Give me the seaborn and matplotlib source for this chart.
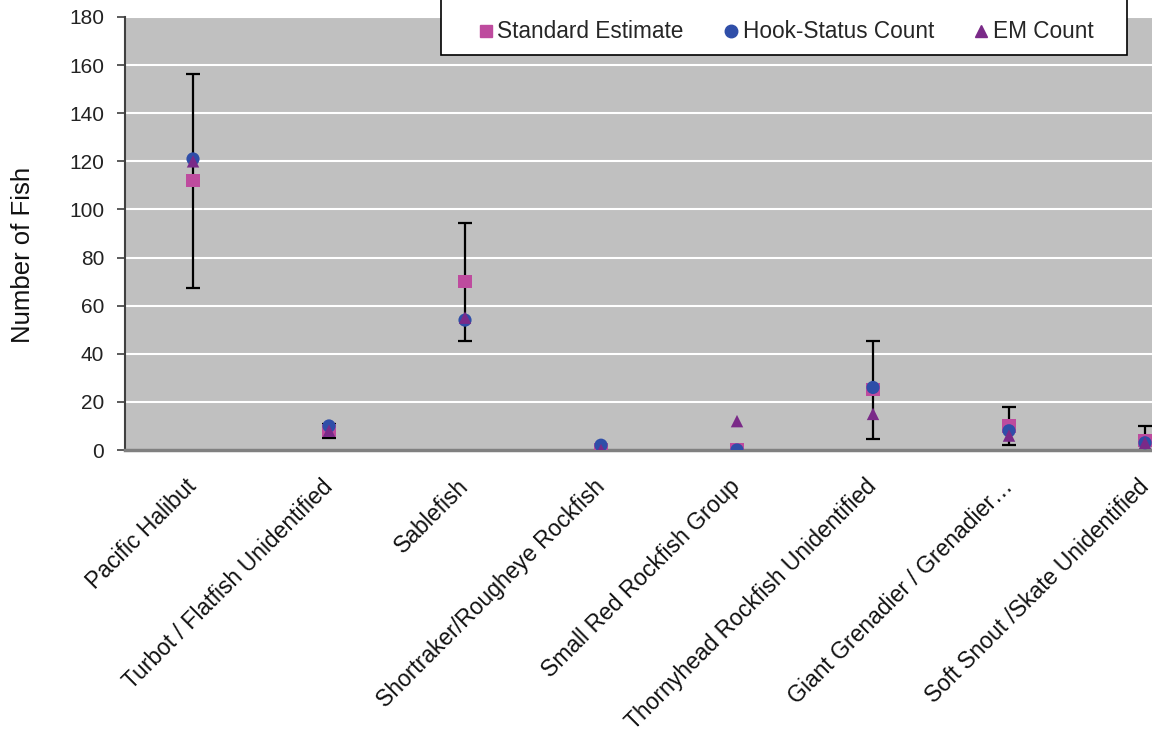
import numpy as np
import pandas as pd
import matplotlib
matplotlib.use("Agg")
import matplotlib.pyplot as plt
import matplotlib.transforms as mtransforms
from matplotlib.patches import Rectangle
from matplotlib.lines import Line2D
import seaborn as sns

categories = [
    "Pacific Halibut",
    "Turbot / Flatfish Unidentified",
    "Sablefish",
    "Shortraker/Rougheye Rockfish",
    "Small Red Rockfish Group",
    "Thornyhead Rockfish Unidentified",
    "Giant Grenadier / Grenadier\u2026",
    "Soft Snout /Skate Unidentified",
]
standard_estimate = [112, 8, 70, 0, 0, 25, 10, 4]
standard_error = [44.5, 3, 24.5, 0, 0, 20.5, 8, 6]
hook_status_count = [121, 10, 54, 2, 0, 26, 8, 3]
em_count = [120, 8, 55, 0, 12, 15, 6, 3]

series_names = ["Standard Estimate", "Hook-Status Count", "EM Count"]
colors = {"Standard Estimate": "#BE4B9E", "Hook-Status Count": "#2F4EA8", "EM Count": "#7A2A88"}
markers = {"Standard Estimate": "s", "Hook-Status Count": "o", "EM Count": "^"}

df = pd.DataFrame({
    "Species": categories * 3,
    "Series": [series_names[0]] * 8 + [series_names[1]] * 8 + [series_names[2]] * 8,
    "Value": standard_estimate + hook_status_count + em_count,
})

sns.set_theme(style="white")
plt.rcParams["font.family"] = ["Liberation Sans", "DejaVu Sans"]

fig = plt.figure(figsize=(11.52, 7.40), dpi=100)
ax = fig.add_axes([125 / 1152, 290 / 740, 1088 / 1152, 433 / 740])
ax.set_facecolor("#C0C0C0")

x_pos = np.arange(len(categories))
ax.errorbar(x_pos, standard_estimate, yerr=standard_error, fmt="none",
            ecolor="black", elinewidth=1.6, capsize=4.8, capthick=1.6, zorder=2)

for name in series_names:
    sub = df[df["Series"] == name]
    sns.scatterplot(data=sub, x="Species", y="Value", ax=ax, color=colors[name],
                    marker=markers[name], s=90 if name != "EM Count" else 80,
                    edgecolor="none", linewidth=0, zorder=3, legend=False)

ax.set_xlim(-0.5, 7.5)
ax.set_ylim(0, 180)
ax.set_yticks(np.arange(0, 181, 20))
ax.yaxis.grid(True, color="white", linewidth=1.5)
ax.xaxis.grid(False)
ax.set_axisbelow(True)

for s in ["top", "right"]:
    ax.spines[s].set_visible(False)
ax.spines["left"].set_color("#404040")
ax.spines["left"].set_linewidth(1.5)
ax.spines["bottom"].set_color("#808080")
ax.spines["bottom"].set_linewidth(2.5)

ax.tick_params(axis="y", which="major", direction="out", length=6, width=1.2,
               color="#404040", left=True, labelsize=15, labelcolor="#222222", pad=9)
ax.tick_params(axis="x", bottom=False, labelsize=16.5, labelcolor="#111111", pad=12)
ax.set_xticks(x_pos)
ax.set_xticklabels(categories, rotation=45, ha="right", rotation_mode="anchor")
shift = mtransforms.ScaledTranslation(-8 / 100, 0, fig.dpi_scale_trans)
for lbl in ax.get_xticklabels():
    lbl.set_transform(lbl.get_transform() + shift)
ax.set_xlabel("")
ax.set_ylabel("Number of Fish", fontsize=18.5, color="#111111")
ax.yaxis.set_label_coords(-0.083, 0.45)

# legend box (extends beyond top of figure)
rect = Rectangle((441 / 1152, 1 - 55 / 740), (1127 - 441) / 1152, 80 / 740,
                 transform=fig.transFigure, facecolor="white", edgecolor="black",
                 linewidth=1.2, zorder=5, clip_on=False)
fig.patches.append(rect)
handles = [Line2D([], [], linestyle="none", marker=markers[n], color=colors[n],
                  markersize=9 if n != "EM Count" else 8.5) for n in series_names]
leg = fig.legend(handles, series_names, loc="center", ncol=3,
                 bbox_to_anchor=(784 / 1152, 1 - 32 / 740), frameon=False,
                 fontsize=16.3, handletextpad=0.0, columnspacing=1.6, handlelength=1.0)
leg.set_zorder(6)

fig.savefig("out.png", dpi=100)
